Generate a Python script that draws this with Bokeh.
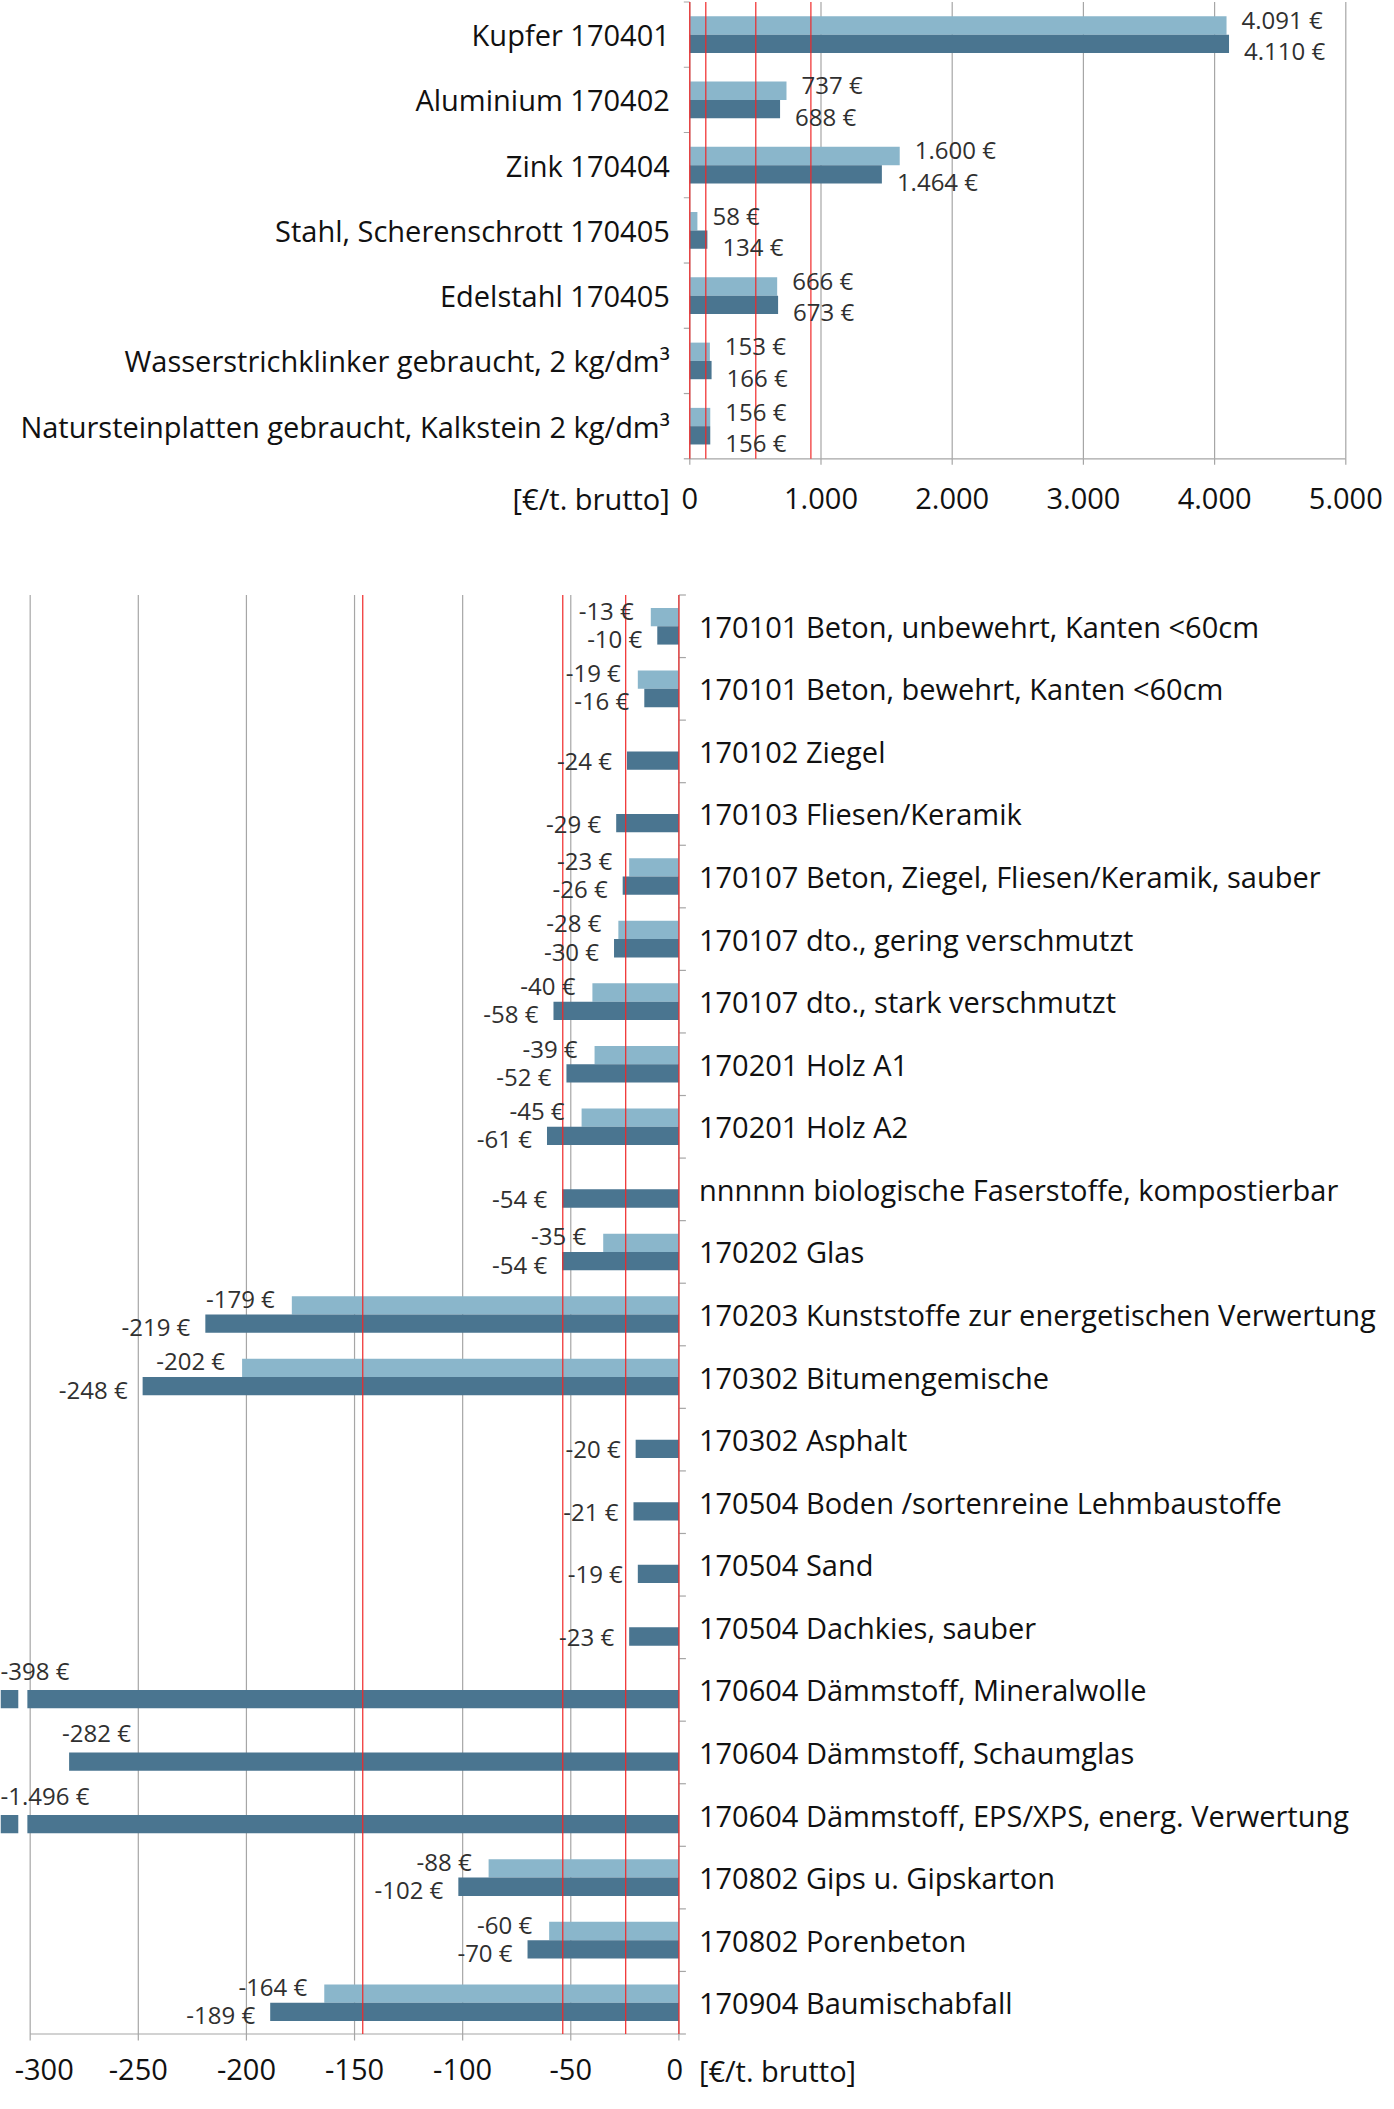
from bokeh.plotting import figure
from bokeh.models import ColumnDataSource, Range1d
from bokeh.embed import file_html
from bokeh.resources import INLINE
from bokeh.core.properties import value

# ---------------- data ----------------
top_categories = [
    "Kupfer 170401",
    "Aluminium 170402",
    "Zink 170404",
    "Stahl, Scherenschrott 170405",
    "Edelstahl 170405",
    "Wasserstrichklinker gebraucht, 2 kg/dm³",
    "Natursteinplatten gebraucht, Kalkstein 2 kg/dm³",
]
top_light = [4091, 737, 1600, 58, 666, 153, 156]
top_dark = [4110, 688, 1464, 134, 673, 166, 156]
top_ticks = [0, 1000, 2000, 3000, 4000, 5000]
top_tick_labels = ["0", "1.000", "2.000", "3.000", "4.000", "5.000"]
top_ref_lines = [0, 122, 503, 923]

bot_categories = [
    "170101 Beton, unbewehrt, Kanten <60cm",
    "170101 Beton, bewehrt, Kanten <60cm",
    "170102 Ziegel",
    "170103 Fliesen/Keramik",
    "170107 Beton, Ziegel, Fliesen/Keramik, sauber",
    "170107 dto., gering verschmutzt",
    "170107 dto., stark verschmutzt",
    "170201 Holz A1",
    "170201 Holz A2",
    "nnnnnn biologische Faserstoffe, kompostierbar",
    "170202 Glas",
    "170203 Kunststoffe zur energetischen Verwertung",
    "170302 Bitumengemische",
    "170302 Asphalt",
    "170504 Boden /sortenreine Lehmbaustoffe",
    "170504 Sand",
    "170504 Dachkies, sauber",
    "170604 Dämmstoff, Mineralwolle",
    "170604 Dämmstoff, Schaumglas",
    "170604 Dämmstoff, EPS/XPS, energ. Verwertung",
    "170802 Gips u. Gipskarton",
    "170802 Porenbeton",
    "170904 Baumischabfall",
]
bot_light = [-13, -19, None, None, -23, -28, -40, -39, -45, None, -35, -179, -202,
             None, None, None, None, None, None, None, -88, -60, -164]
bot_dark = [-10, -16, -24, -29, -26, -30, -58, -52, -61, -54, -54, -219, -248,
            -20, -21, -19, -23, -398, -282, -1496, -102, -70, -189]
bot_ticks = [-300, -250, -200, -150, -100, -50, 0]
bot_tick_labels = ["-300", "-250", "-200", "-150", "-100", "-50", "0"]
bot_ref_lines = [0, -24.6, -53.7, -146.2]
unit_label = "[€/t. brutto]"

# ---------------- style / layout ----------------
LIGHT = "#8AB6CB"
DARK = "#4A7590"
GRID = "#A6A6A6"
RED = "#F02828"
TXT = "#111111"
VTXT = "#303030"
FONT = value("Open Sans")
CAT_FS = value("29px")
TICK_FS = value("29px")
VAL_FS = value("24px")
BAR_PX = 18.3
LW = 1.2

W, H = 1390, 2095           # canvas size (page pixels)
PX0, PY0 = 0, 0             # page offset of the canvas

# top chart geometry (page pixels)
T_AX_X, T_AX_Y = 689.3, 458.3     # value 0 / category axis bottom
T_KX = 656.0 / 5000.0             # px per value unit
T_KY = (458.3 - 1.5) / 7          # px per category
# bottom chart geometry
B_AX_X, B_AX_Y = 678.4, 2033.5
B_KX = 2.1624
B_KY = (2033.5 - 594.5) / 23


def rng(ax0, k, lo, hi):
    return Range1d((lo - ax0) / k, (hi - ax0) / k)


def rng_y(ax0, k, top_page, bottom_page):
    return Range1d((ax0 - bottom_page) / k, (ax0 - top_page) / k)


p = figure(width=W, height=H, frame_width=W, frame_height=H,
           x_range=rng(T_AX_X, T_KX, PX0, PX0 + W),
           y_range=rng_y(T_AX_Y, T_KY, PY0, PY0 + H),
           min_border=0, min_border_left=0, min_border_right=0,
           min_border_top=0, min_border_bottom=0,
           x_axis_location=None, y_axis_location=None,
           output_backend="svg", toolbar_location=None)
p.extra_x_ranges = {"b": rng(B_AX_X, B_KX, PX0, PX0 + W)}
p.extra_y_ranges = {"b": rng_y(B_AX_Y, B_KY, PY0, PY0 + H)}
p.outline_line_color = None
p.background_fill_color = "white"
p.border_fill_color = "white"
p.grid.grid_line_color = None

TOPR = dict(x_range_name="default", y_range_name="default")
BOTR = dict(x_range_name="b", y_range_name="b")


def eur(v):
    s = f"{abs(v):,}".replace(",", ".")
    return ("-" if v < 0 else "") + s + " €"


def seg(x0, y0, x1, y1, color, rn):
    p.segment(x0=x0, y0=y0, x1=x1, y1=y1, line_color=color, line_width=LW, **rn)


def txt(xs, ys, texts, align, dx, dy, size, color, rn):
    if not xs:
        return
    src = ColumnDataSource(dict(x=xs, y=ys, t=texts, dx=dx, dy=dy))
    p.text(x="x", y="y", text="t", source=src, x_offset="dx", y_offset="dy",
           text_align=align, text_baseline="middle", text_font=FONT,
           text_font_size=size, text_color=color, **rn)


# ================= TOP CHART =================
N1 = len(top_categories)
th = BAR_PX / T_KY
t_cent = [N1 - i - 0.5 for i in range(N1)]
tick_len_y = 6 / T_KY
tick_len_x = 6 / T_KX

# grid
g = top_ticks[1:]
seg(g, [0] * len(g), g, [N1] * len(g), GRID, TOPR)
# axes
seg([0], [0], [top_ticks[-1]], [0], GRID, TOPR)
seg([0], [0], [0], [N1], GRID, TOPR)
seg(top_ticks, [0] * len(top_ticks), top_ticks, [-tick_len_y] * len(top_ticks), GRID, TOPR)
bnd = list(range(N1 + 1))
seg([0] * len(bnd), bnd, [-tick_len_x] * len(bnd), bnd, GRID, TOPR)
# bars
p.hbar(y=[c + th / 2 for c in t_cent], left=0, right=top_light, height=th,
       fill_color=LIGHT, line_color=None, **TOPR)
p.hbar(y=[c - th / 2 for c in t_cent], left=0, right=top_dark, height=th,
       fill_color=DARK, line_color=None, **TOPR)
# reference lines
seg(top_ref_lines, [0] * len(top_ref_lines), top_ref_lines, [N1] * len(top_ref_lines), RED, TOPR)
# value labels
txt(top_light, [c + th / 2 for c in t_cent], [eur(v) for v in top_light], "left",
    [15] * N1, [-6] * N1, VAL_FS, VTXT, TOPR)
txt(top_dark, [c - th / 2 for c in t_cent], [eur(v) for v in top_dark], "left",
    [15] * N1, [7] * N1, VAL_FS, VTXT, TOPR)
# category labels
txt([0] * N1, t_cent, top_categories, "right", [-20] * N1, [0] * N1, CAT_FS, TXT, TOPR)
# tick labels + unit
txt(top_ticks, [0] * len(top_ticks), top_tick_labels, "center",
    [0] * len(top_ticks), [40] * len(top_ticks), TICK_FS, TXT, TOPR)
txt([0], [0], [unit_label], "right", [-20], [40], TICK_FS, TXT, TOPR)

# ================= BOTTOM CHART =================
N2 = len(bot_categories)
bh = BAR_PX / B_KY
b_cent = [N2 - i - 0.5 for i in range(N2)]
XLEFT = (PX0 - B_AX_X) / B_KX
btick_y = 6.5 / B_KY
btick_x = 7 / B_KX

g = bot_ticks[:-1]
seg(g, [0] * len(g), g, [N2] * len(g), GRID, BOTR)
seg([bot_ticks[0]], [0], [0], [0], GRID, BOTR)
seg([0], [0], [0], [N2], GRID, BOTR)
seg(bot_ticks, [0] * len(bot_ticks), bot_ticks, [-btick_y] * len(bot_ticks), GRID, BOTR)
bnd = list(range(N2 + 1))
seg([0] * len(bnd), bnd, [btick_x] * len(bnd), bnd, GRID, BOTR)

li = [i for i in range(N2) if bot_light[i] is not None]
ly = [b_cent[i] + bh / 2 for i in li]
lv = [bot_light[i] for i in li]
p.hbar(y=ly, left=lv, right=0, height=bh, fill_color=LIGHT, line_color=None, **BOTR)
dy_ = [c - bh / 2 for c in b_cent]
p.hbar(y=dy_, left=bot_dark, right=0, height=bh, fill_color=DARK, line_color=None, **BOTR)

# break marks on bars running past the left edge
brk = [i for i in range(N2) if bot_dark[i] < XLEFT]
p.quad(left=[-305.5] * len(brk), right=[-301.3] * len(brk),
       bottom=[dy_[i] - bh / 2 - 0.02 for i in brk], top=[dy_[i] + bh / 2 + 0.02 for i in brk],
       fill_color="white", line_color=None, **BOTR)

seg(bot_ref_lines, [0] * len(bot_ref_lines), bot_ref_lines, [N2] * len(bot_ref_lines), RED, BOTR)

txt(lv, ly, [eur(v) for v in lv], "right", [-17] * len(lv), [-7] * len(lv), VAL_FS, VTXT, BOTR)
norm = [i for i in range(N2) if bot_dark[i] > -260]
txt([bot_dark[i] for i in norm], [dy_[i] for i in norm], [eur(bot_dark[i]) for i in norm],
    "right", [-15] * len(norm), [3 if bot_light[i] is not None else 0 for i in norm],
    VAL_FS, VTXT, BOTR)
spec = [i for i in range(N2) if bot_dark[i] <= -260]
txt([max(bot_dark[i], XLEFT) for i in spec], [dy_[i] for i in spec],
    [eur(bot_dark[i]) for i in spec], "left",
    [-7 if bot_dark[i] > XLEFT else 0 for i in spec], [-29] * len(spec), VAL_FS, VTXT, BOTR)

# category labels on the right
txt([0] * N2, b_cent, bot_categories, "left", [20] * N2, [0] * N2, CAT_FS, TXT, BOTR)
# tick labels (the first one shifted inside the page) + unit
dx_t = [14] + [0] * (len(bot_ticks) - 2) + [-4]
txt(bot_ticks, [0] * len(bot_ticks), bot_tick_labels, "center", dx_t,
    [35] * len(bot_ticks), TICK_FS, TXT, BOTR)
txt([0], [0], [unit_label], "left", [20], [36], TICK_FS, TXT, BOTR)

open("out.html", "w").write(file_html(p, INLINE))
